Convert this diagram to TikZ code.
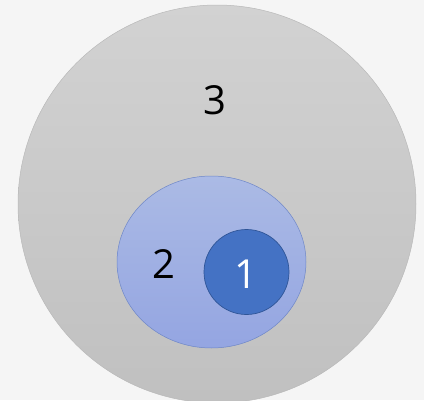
\documentclass[tikz,border=0pt]{standalone}
\usepackage{fontspec}
\setmainfont{Open Sans}
\usetikzlibrary{shapes.geometric}
\definecolor{bgc}{RGB}{245,245,245}
\definecolor{grayc}{RGB}{202,202,202}
\definecolor{grayedge}{RGB}{185,185,185}
\definecolor{lightblue}{RGB}{156,174,224}
\definecolor{lightblueedge}{RGB}{110,135,200}
\definecolor{darkblue}{RGB}{68,114,196}
\definecolor{darkblueedge}{RGB}{47,85,151}
\tikzset{
  lbl/.style={font=\fontsize{40}{40}\selectfont, inner sep=0pt},
}
\begin{document}
\begin{tikzpicture}[x=1pt,y=-1pt]
\fill[bgc] (0,0) rectangle (424,400);
\useasboundingbox (0,0) rectangle (424,400);
\begin{scope}
\clip (0,0) rectangle (424,400);
\node[circle, draw=grayedge, line width=0.5pt, top color=grayc!85!white, bottom color=grayc!95!black, minimum size=398pt, inner sep=0pt] (outer) at (217,204) {};
\end{scope}
\node[ellipse, draw=lightblueedge, line width=0.5pt, top color=lightblue!85!white, bottom color=lightblue!95!blue, minimum width=189pt, minimum height=172pt, inner sep=0pt] (mid) at (211.5,262) {};
\node[circle, draw=darkblueedge, line width=0.7pt, fill=darkblue, minimum size=85pt, inner sep=0pt] (inner) at (246.5,272) {};
\node[lbl, text=black] (t3) at (215,100) {3};
\node[lbl, text=black] (t2) at (164,264) {2};
\node[lbl, text=white] (t1) at (246,274) {1};
\end{tikzpicture}
\end{document}
